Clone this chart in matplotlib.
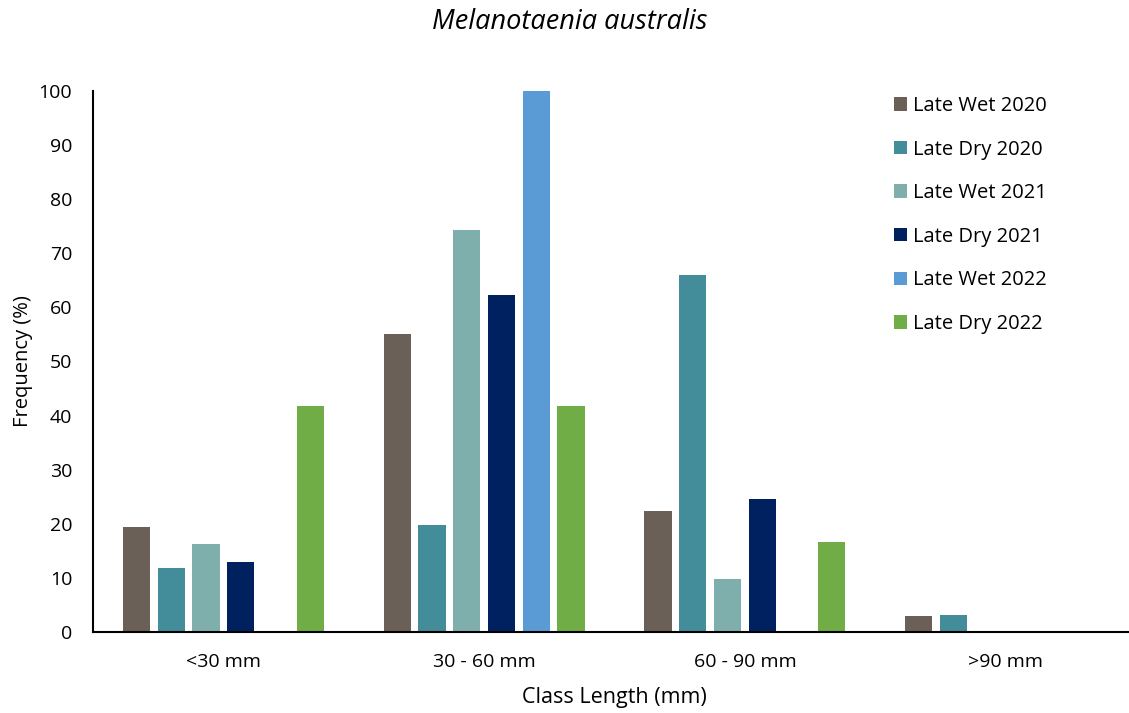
import matplotlib.pyplot as plt
import numpy as np

categories = ['<30 mm', '30 - 60 mm', '60 - 90 mm', '>90 mm']
series_names = ['Late Wet 2020', 'Late Dry 2020', 'Late Wet 2021',
                'Late Dry 2021', 'Late Wet 2022', 'Late Dry 2022']
late_wet_2020 = [19.4, 55.1, 22.4, 3.0]
late_dry_2020 = [11.8, 19.8, 65.9, 3.1]
late_wet_2021 = [16.3, 74.3, 9.8, 0]
late_dry_2021 = [13.0, 62.3, 24.6, 0]
late_wet_2022 = [0, 100, 0, 0]
late_dry_2022 = [41.7, 41.7, 16.7, 0]
colors = ['#6B6058', '#438C99', '#7FAFAC', '#00215F', '#5B9BD5', '#70AD47']

plt.rcParams['font.family'] = ['Open Sans', 'DejaVu Sans']

W, H = 1129, 713
fig = plt.figure(figsize=(W / 100, H / 100), dpi=100)
# axes runs past the right edge, like the cropped original
ax = fig.add_axes([93 / W, (H - 632) / H, 1043 / W, (632 - 91) / H])

x = np.arange(len(categories))
pitch = 0.1333
width = 0.105
all_series = [late_wet_2020, late_dry_2020, late_wet_2021,
              late_dry_2021, late_wet_2022, late_dry_2022]
for i, (name, vals) in enumerate(zip(series_names, all_series)):
    ax.bar(x + (i - 2.5) * pitch, vals, width=width, color=colors[i], label=name)

ax.set_xlim(-0.5, 3.5)
ax.set_ylim(0, 100)
ax.set_yticks(range(0, 101, 10))
ax.set_xticks(x)
ax.set_xticklabels(categories)
ax.tick_params(axis='both', length=0, labelsize=14, colors='#000000')
ax.tick_params(axis='y', pad=15)
ax.tick_params(axis='x', pad=15)
for s in ['top', 'right']:
    ax.spines[s].set_visible(False)
for s in ['left', 'bottom']:
    ax.spines[s].set_linewidth(1.5)

ax.set_ylabel('Frequency (%)', fontsize=14.5, labelpad=4)
ax.set_xlabel('Class Length (mm)', fontsize=15.5, labelpad=12)
fig.text(570 / W, 1 - 22 / H, 'Melanotaenia australis', fontsize=19.5, style='italic',
         ha='center', va='center')

leg = fig.legend(loc='upper left', bbox_to_anchor=(876 / W, 1 - 78 / H), frameon=False,
                 fontsize=14.5, handlelength=0.65, handleheight=0.65, handletextpad=0.3,
                 labelspacing=1.17)

fig.savefig('out.png', dpi=100)
